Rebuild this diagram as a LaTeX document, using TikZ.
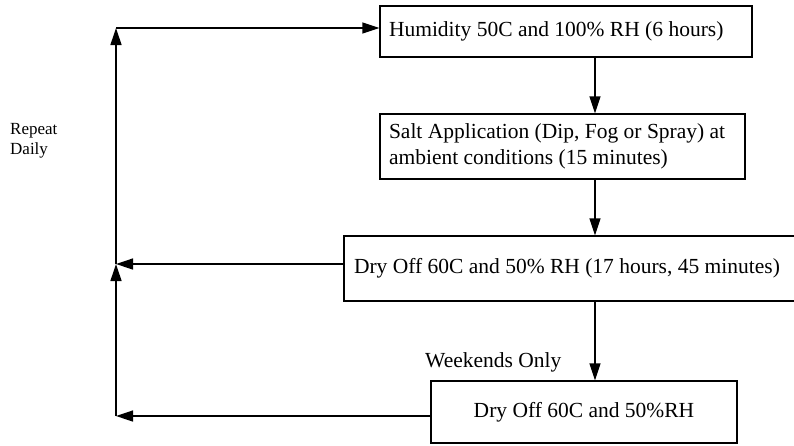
\documentclass[tikz,border=0pt]{standalone}
\usepackage{fontspec}
\setmainfont{Liberation Serif}
\usetikzlibrary{arrows.meta}
\begin{document}
\begin{tikzpicture}[x=1pt,y=-1pt,
  box/.style={draw,line width=1.3pt,inner ysep=0pt,font=\fontsize{21.5}{26}\selectfont},
  conn/.style={line width=1.3pt},
  arr/.style={conn,-{Triangle[length=17pt,width=11pt]}}]
\clip (0,0) rectangle (794,445);
\node[box,minimum width=372pt,minimum height=51pt,inner xsep=9pt,text width=354pt,align=flush left] (b1) at (566,31.5) {Humidity 50C and 100\% RH (6 hours)};
\node[box,minimum width=365pt,minimum height=65pt,inner xsep=9pt,text width=347pt,align=flush left] (b2) at (562.5,146.5) {Salt Application (Dip, Fog or Spray) at\\ambient conditions (15 minutes)};
\node[box,minimum width=456pt,minimum height=65pt,inner xsep=10pt,text width=436pt,align=flush left] (b3) at (572,268.5) {Dry Off 60C and 50\% RH (17 hours, 45 minutes)};
\node[box,minimum width=306pt,minimum height=62pt,inner xsep=0pt,text width=306pt,align=flush center] (b4) at (584,412) {Dry Off 60C and 50\%RH};
\node[anchor=west,align=flush left,inner sep=0pt,font=\fontsize{17}{20}\selectfont] (rep) at (10,141) {Repeat\\Daily};
\node[anchor=base west,inner sep=0pt,font=\fontsize{21.5}{26}\selectfont] (wk) at (425,367) {Weekends Only};
\coordinate (c1) at (116,28);
\coordinate (c2) at (116,264);
\coordinate (c3) at (116,416);
\coordinate (vx) at (595,0);
\draw[arr] (b1.south -| vx) -- (b2.north -| vx);
\draw[arr] (b2.south -| vx) -- (b3.north -| vx);
\draw[arr] (b3.south -| vx) -- (b4.north -| vx);
\draw[arr] (b4.west |- c3) -- (c3);
\draw[arr] (c3) -- (c2);
\draw[arr] (b3.west |- c2) -- (c2);
\draw[arr] (c2) -- (c1);
\draw[arr] (c1) -- (b1.west |- c1);
\end{tikzpicture}
\end{document}
